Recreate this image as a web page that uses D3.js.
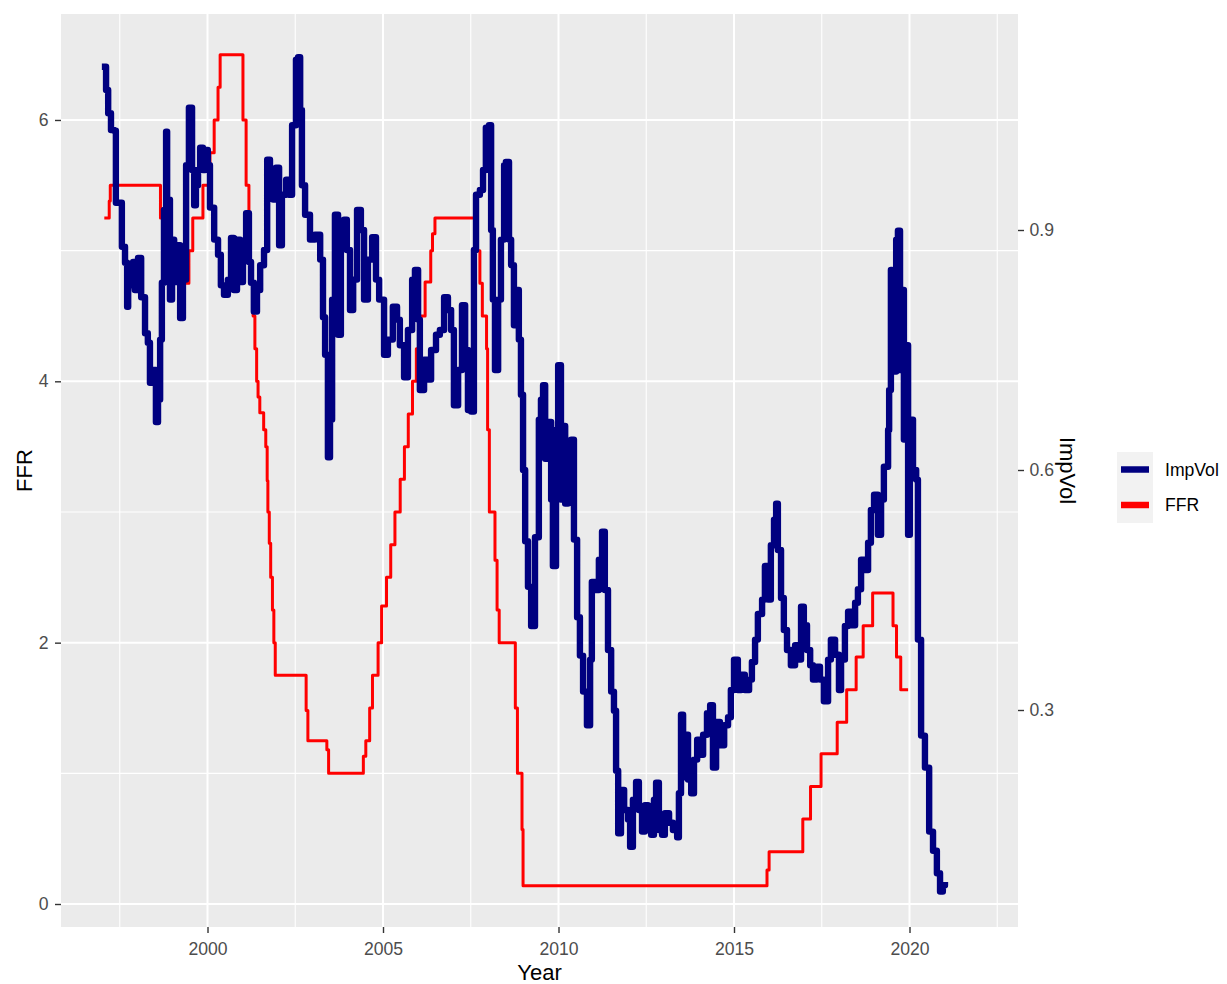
<!DOCTYPE html>
<html>
<head>
<meta charset="utf-8">
<script src="https://cdn.jsdelivr.net/npm/d3@7"></script>
<style>
  body { margin: 0; background: #fff; }
  text { font-family: "Liberation Sans", Arial, sans-serif; }
</style>
</head>
<body>
<div id="chart"></div>
<script>
// implied volatility (decimal year / value on the right axis)
const volYear = [
  1996.99, 1997.11, 1997.17, 1997.25, 1997.34, 1997.39, 1997.56, 1997.65, 1997.71, 1997.74,
  1997.82, 1997.88, 1997.93, 1998.02, 1998.11, 1998.22, 1998.30, 1998.36, 1998.45, 1998.53,
  1998.59, 1998.65, 1998.70, 1998.76, 1998.82, 1998.85, 1998.87, 1998.93, 1998.99, 1999.05,
  1999.10, 1999.16, 1999.22, 1999.30, 1999.39, 1999.47, 1999.56, 1999.62, 1999.67, 1999.73,
  1999.79, 1999.87, 1999.93, 2000.01, 2000.07, 2000.19, 2000.30, 2000.38, 2000.47, 2000.58,
  2000.67, 2000.75, 2000.84, 2000.93, 2001.01, 2001.10, 2001.18, 2001.24, 2001.32, 2001.41,
  2001.50, 2001.61, 2001.70, 2001.78, 2001.87, 2001.95, 2002.04, 2002.12, 2002.24, 2002.32,
  2002.41, 2002.52, 2002.58, 2002.64, 2002.69, 2002.78, 2002.92, 2003.06, 2003.21, 2003.29,
  2003.35, 2003.43, 2003.49, 2003.55, 2003.63, 2003.72, 2003.80, 2003.89, 2003.97, 2004.06,
  2004.15, 2004.26, 2004.37, 2004.46, 2004.57, 2004.69, 2004.80, 2004.89, 2005.03, 2005.14,
  2005.28, 2005.40, 2005.48, 2005.60, 2005.71, 2005.83, 2005.91, 2006.00, 2006.05, 2006.17,
  2006.28, 2006.37, 2006.51, 2006.62, 2006.74, 2006.85, 2006.94, 2007.02, 2007.14, 2007.25,
  2007.34, 2007.42, 2007.51, 2007.59, 2007.65, 2007.76, 2007.85, 2007.93, 2008.02, 2008.08,
  2008.13, 2008.19, 2008.28, 2008.36, 2008.45, 2008.50, 2008.59, 2008.65, 2008.73, 2008.79,
  2008.87, 2008.93, 2008.99, 2009.05, 2009.13, 2009.22, 2009.33, 2009.44, 2009.50, 2009.56,
  2009.62, 2009.70, 2009.79, 2009.84, 2009.93, 2009.99, 2010.07, 2010.13, 2010.19, 2010.27,
  2010.36, 2010.44, 2010.53, 2010.61, 2010.70, 2010.81, 2010.90, 2010.95, 2011.07, 2011.15,
  2011.24, 2011.32, 2011.41, 2011.50, 2011.58, 2011.64, 2011.70, 2011.78, 2011.87, 2011.98,
  2012.04, 2012.12, 2012.21, 2012.29, 2012.38, 2012.46, 2012.55, 2012.64, 2012.72, 2012.78,
  2012.86, 2012.95, 2013.03, 2013.15, 2013.26, 2013.38, 2013.43, 2013.49, 2013.55, 2013.60,
  2013.69, 2013.78, 2013.86, 2013.95, 2014.03, 2014.12, 2014.23, 2014.32, 2014.40, 2014.49,
  2014.60, 2014.72, 2014.83, 2014.91, 2015.00, 2015.11, 2015.20, 2015.31, 2015.43, 2015.51,
  2015.60, 2015.68, 2015.80, 2015.88, 2015.97, 2016.05, 2016.14, 2016.20, 2016.25, 2016.34,
  2016.42, 2016.51, 2016.62, 2016.74, 2016.82, 2016.91, 2016.99, 2017.08, 2017.17, 2017.25,
  2017.36, 2017.45, 2017.56, 2017.68, 2017.76, 2017.88, 2017.99, 2018.05, 2018.16, 2018.25,
  2018.36, 2018.45, 2018.53, 2018.62, 2018.73, 2018.82, 2018.90, 2018.99, 2019.10, 2019.19,
  2019.27, 2019.39, 2019.42, 2019.47, 2019.50, 2019.56, 2019.62, 2019.67, 2019.73, 2019.79,
  2019.84, 2019.90, 2019.96, 2020.01, 2020.10, 2020.19, 2020.24, 2020.33, 2020.44, 2020.56,
  2020.67, 2020.78, 2020.87, 2020.95, 2021.01
];
const volValue = [
  1.104, 1.075, 1.046, 1.025, 1.024, 0.934, 0.879, 0.859, 0.804, 0.856,
  0.831, 0.860, 0.825, 0.865, 0.816, 0.771, 0.759, 0.709, 0.725, 0.660,
  0.688, 0.763, 0.834, 0.925, 1.023, 0.863, 0.938, 0.813, 0.888, 0.844,
  0.835, 0.881, 0.790, 0.838, 0.981, 1.053, 0.975, 0.931, 0.956, 0.975,
  1.003, 0.975, 1.000, 0.981, 0.928, 0.888, 0.869, 0.831, 0.819, 0.838,
  0.890, 0.825, 0.888, 0.835, 0.875, 0.921, 0.860, 0.834, 0.798, 0.825,
  0.856, 0.875, 0.988, 0.956, 0.938, 0.978, 0.881, 0.944, 0.963, 0.944,
  1.031, 1.113, 1.116, 1.050, 0.956, 0.919, 0.888, 0.894, 0.863, 0.791,
  0.744, 0.616, 0.663, 0.813, 0.919, 0.769, 0.888, 0.913, 0.875, 0.800,
  0.838, 0.925, 0.900, 0.813, 0.863, 0.891, 0.838, 0.813, 0.744, 0.763,
  0.804, 0.788, 0.756, 0.716, 0.775, 0.838, 0.850, 0.788, 0.700, 0.738,
  0.713, 0.750, 0.769, 0.775, 0.816, 0.800, 0.775, 0.681, 0.725, 0.806,
  0.750, 0.675, 0.673, 0.875, 0.944, 0.950, 0.975, 1.028, 1.031, 0.900,
  0.813, 0.725, 0.813, 0.888, 0.981, 0.985, 0.888, 0.856, 0.781, 0.825,
  0.763, 0.694, 0.600, 0.511, 0.454, 0.405, 0.516, 0.663, 0.688, 0.706,
  0.614, 0.660, 0.563, 0.480, 0.650, 0.731, 0.563, 0.655, 0.558, 0.613,
  0.638, 0.513, 0.416, 0.368, 0.323, 0.281, 0.363, 0.460, 0.450, 0.488,
  0.523, 0.450, 0.375, 0.323, 0.299, 0.224, 0.146, 0.200, 0.175, 0.163,
  0.129, 0.188, 0.210, 0.175, 0.148, 0.181, 0.150, 0.144, 0.188, 0.209,
  0.150, 0.144, 0.171, 0.159, 0.150, 0.141, 0.196, 0.294, 0.216, 0.269,
  0.213, 0.196, 0.238, 0.263, 0.244, 0.269, 0.296, 0.306, 0.228, 0.285,
  0.256, 0.281, 0.291, 0.325, 0.363, 0.325, 0.344, 0.325, 0.338, 0.360,
  0.388, 0.420, 0.438, 0.480, 0.438, 0.506, 0.538, 0.558, 0.500, 0.440,
  0.400, 0.375, 0.356, 0.381, 0.363, 0.429, 0.406, 0.375, 0.356, 0.338,
  0.354, 0.338, 0.311, 0.363, 0.388, 0.369, 0.325, 0.363, 0.405, 0.423,
  0.406, 0.434, 0.451, 0.488, 0.475, 0.509, 0.550, 0.569, 0.519, 0.563,
  0.604, 0.650, 0.700, 0.850, 0.775, 0.723, 0.888, 0.899, 0.725, 0.825,
  0.638, 0.756, 0.519, 0.663, 0.600, 0.588, 0.388, 0.268, 0.228, 0.148,
  0.124, 0.096, 0.073, 0.081, 0.085
];

// fed funds rate, each value holds until the next date
const ffrYear = [
  1997.06, 1997.20, 1997.23, 1998.66, 1998.74, 1998.83, 1999.47, 1999.58, 1999.87, 2000.07,
  2000.19, 2000.30, 2000.36, 2001.01, 2001.10, 2001.18, 2001.21, 2001.25, 2001.30, 2001.35,
  2001.40, 2001.44, 2001.49, 2001.60, 2001.66, 2001.70, 2001.72, 2001.76, 2001.80, 2001.85,
  2001.89, 2001.93, 2002.81, 2002.86, 2003.40, 2003.45, 2004.44, 2004.51, 2004.62, 2004.70,
  2004.86, 2004.96, 2005.10, 2005.22, 2005.34, 2005.49, 2005.61, 2005.72, 2005.84, 2005.95,
  2006.08, 2006.20, 2006.36, 2006.41, 2006.48, 2007.68, 2007.76, 2007.83, 2007.95, 2007.98,
  2008.03, 2008.19, 2008.25, 2008.31, 2008.77, 2008.83, 2008.96, 2008.99, 2015.94, 2016.00,
  2016.96, 2017.18, 2017.48, 2017.94, 2018.21, 2018.48, 2018.68, 2018.95, 2019.53, 2019.63,
  2019.75, 2019.96
];
const ffrRate = [
  5.25, 5.38, 5.50, 5.25, 5.00, 4.75, 5.00, 5.25, 5.50, 5.75,
  6.00, 6.25, 6.50, 6.00, 5.50, 5.25, 4.90, 4.75, 4.50, 4.25,
  4.00, 3.88, 3.76, 3.63, 3.50, 3.24, 3.00, 2.76, 2.50, 2.25,
  2.00, 1.75, 1.48, 1.25, 1.18, 1.00, 1.13, 1.25, 1.50, 1.75,
  2.00, 2.28, 2.50, 2.75, 3.00, 3.25, 3.50, 3.75, 4.00, 4.25,
  4.50, 4.76, 5.00, 5.13, 5.25, 5.00, 4.75, 4.50, 4.25, 3.63,
  3.00, 2.63, 2.25, 2.00, 1.50, 1.00, 0.57, 0.14, 0.26, 0.40,
  0.65, 0.90, 1.15, 1.39, 1.64, 1.89, 2.13, 2.38, 2.13, 1.89,
  1.64, 1.64
];

const xTicks = [2000, 2005, 2010, 2015, 2020];
const xMinor = [1997.5, 2002.5, 2007.5, 2012.5, 2017.5, 2022.5];
const ffrTicks = [0, 2, 4, 6];
const ffrMinor = [1, 3, 5];
const volTicks = [0.3, 0.6, 0.9];
const seriesNames = ['ImpVol', 'FFR'];
const seriesColors = ['#000080', '#ff0000'];

const margin = {top: 14, right: 209, bottom: 57, left: 61};
const width = 1227 - margin.left - margin.right;
const height = 984 - margin.top - margin.bottom;

const svg = d3.select('#chart').append('svg')
    .attr('width', 1227)
    .attr('height', 984);

const g = svg.append('g')
    .attr('transform', 'translate(' + margin.left + ',' + margin.top + ')');

const x = d3.scaleLinear().domain([1995.826, 2023.091]).range([0, width]);
const y = d3.scaleLinear().domain([-0.176, 6.811]).range([height, 0]);
const y2 = d3.scaleLinear().domain([0.02875, 1.17]).range([height, 0]);

// panel + grid
g.append('rect')
    .attr('width', width)
    .attr('height', height)
    .attr('fill', '#ebebeb');

g.selectAll('.vminor').data(xMinor).enter().append('line')
    .attr('x1', d => x(d)).attr('x2', d => x(d))
    .attr('y1', 0).attr('y2', height)
    .attr('stroke', '#fff').attr('stroke-width', 1.1);
g.selectAll('.hminor').data(ffrMinor).enter().append('line')
    .attr('y1', d => y(d)).attr('y2', d => y(d))
    .attr('x1', 0).attr('x2', width)
    .attr('stroke', '#fff').attr('stroke-width', 1.1);
g.selectAll('.vmajor').data(xTicks).enter().append('line')
    .attr('x1', d => x(d)).attr('x2', d => x(d))
    .attr('y1', 0).attr('y2', height)
    .attr('stroke', '#fff').attr('stroke-width', 2);
g.selectAll('.hmajor').data(ffrTicks).enter().append('line')
    .attr('y1', d => y(d)).attr('y2', d => y(d))
    .attr('x1', 0).attr('x2', width)
    .attr('stroke', '#fff').attr('stroke-width', 2);

// series
const ffrLine = d3.line()
    .x(i => x(ffrYear[i]))
    .y(i => y(ffrRate[i]))
    .curve(d3.curveStepAfter);
const volLine = d3.line()
    .x(i => x(volYear[i]))
    .y(i => y2(volValue[i]))
    .curve(d3.curveStepAfter);

g.append('path')
    .attr('d', ffrLine(d3.range(ffrYear.length)))
    .attr('fill', 'none')
    .attr('stroke', seriesColors[1])
    .attr('stroke-width', 3)
    .attr('stroke-linejoin', 'round');

g.append('path')
    .attr('d', volLine(d3.range(volYear.length)))
    .attr('fill', 'none')
    .attr('stroke', seriesColors[0])
    .attr('stroke-width', 6.4)
    .attr('stroke-linejoin', 'round');

// axes
function styleAxis(sel) {
    sel.select('.domain').remove();
    sel.attr('font-size', 17.6);
    sel.selectAll('line').attr('stroke', '#333').attr('stroke-width', 1.4);
    sel.selectAll('text').attr('fill', '#4d4d4d');
}

g.append('g')
    .attr('transform', 'translate(0,' + height + ')')
    .call(d3.axisBottom(x).tickValues(xTicks).tickFormat(d3.format('d')).tickSize(6).tickPadding(10))
    .call(styleAxis);

g.append('g')
    .call(d3.axisLeft(y).tickValues(ffrTicks).tickFormat(d3.format('d')).tickSize(6).tickPadding(6.5))
    .call(styleAxis);

g.append('g')
    .attr('transform', 'translate(' + width + ',0)')
    .call(d3.axisRight(y2).tickValues(volTicks).tickFormat(d3.format('.1f')).tickSize(6).tickPadding(5.5))
    .call(styleAxis);

// axis titles
svg.append('text')
    .attr('x', margin.left + width / 2)
    .attr('y', 980)
    .attr('text-anchor', 'middle')
    .attr('font-size', 22)
    .text('Year');

svg.append('text')
    .attr('transform', 'translate(31.5,' + (margin.top + height / 2) + ') rotate(-90)')
    .attr('text-anchor', 'middle')
    .attr('font-size', 22)
    .text('FFR');

svg.append('text')
    .attr('transform', 'translate(1059.5,' + (margin.top + height / 2) + ') rotate(90)')
    .attr('text-anchor', 'middle')
    .attr('font-size', 22)
    .text('ImpVol');

// legend
const legend = svg.append('g').attr('transform', 'translate(1117,452)');
legend.append('rect')
    .attr('width', 36)
    .attr('height', 71)
    .attr('fill', '#f2f2f2');

const items = legend.selectAll('.item').data(seriesNames).enter().append('g')
    .attr('transform', (d, i) => 'translate(0,' + (17.5 + i * 35.5) + ')');
items.append('line')
    .attr('x1', 4).attr('x2', 32)
    .attr('stroke', (d, i) => seriesColors[i])
    .attr('stroke-width', 6.5);
items.append('text')
    .attr('x', 48)
    .attr('dy', '0.36em')
    .attr('font-size', 17.6)
    .text(d => d);
</script>
</body>
</html>
